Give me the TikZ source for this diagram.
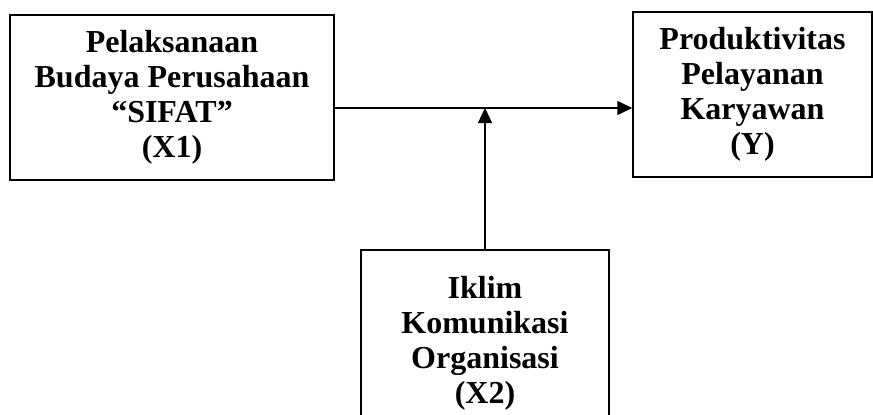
\documentclass[tikz,border=0pt]{standalone}
\usepackage{fontspec}
\setmainfont{Liberation Serif}
\usetikzlibrary{arrows.meta}

\begin{document}
\begin{tikzpicture}[x=1pt, y=-1pt,
        kotak/.style={draw, line width=1.4pt, align=center, inner sep=0pt,
            font=\bfseries\fontsize{32}{35}\selectfont},
        panah/.style={line width=1.4pt, -{Triangle[length=15pt,width=14pt]}}]
        \clip (0,0) rectangle (873,415);

        \node[kotak, minimum width=324pt, minimum height=165pt] (x1) at (172, 97.5)
            {Pelaksanaan\\Budaya Perusahaan\\“SIFAT”\\(X1)};

        \node[kotak, minimum width=239pt, minimum height=165pt] (y) at (752.5, 94.5)
            {Produktivitas\\Pelayanan\\Karyawan\\(Y)};

        \node[kotak, minimum width=248pt, minimum height=186pt] (x2) at (485, 343)
            {Iklim\\Komunikasi\\Organisasi\\(X2)};

        \coordinate (temu) at (x2.north |- 0,108);

        \draw[panah] (x1.east |- temu) -- (y.west |- temu);
        \draw[panah] (x2.north) -- (temu);

    \end{tikzpicture}
\end{document}
